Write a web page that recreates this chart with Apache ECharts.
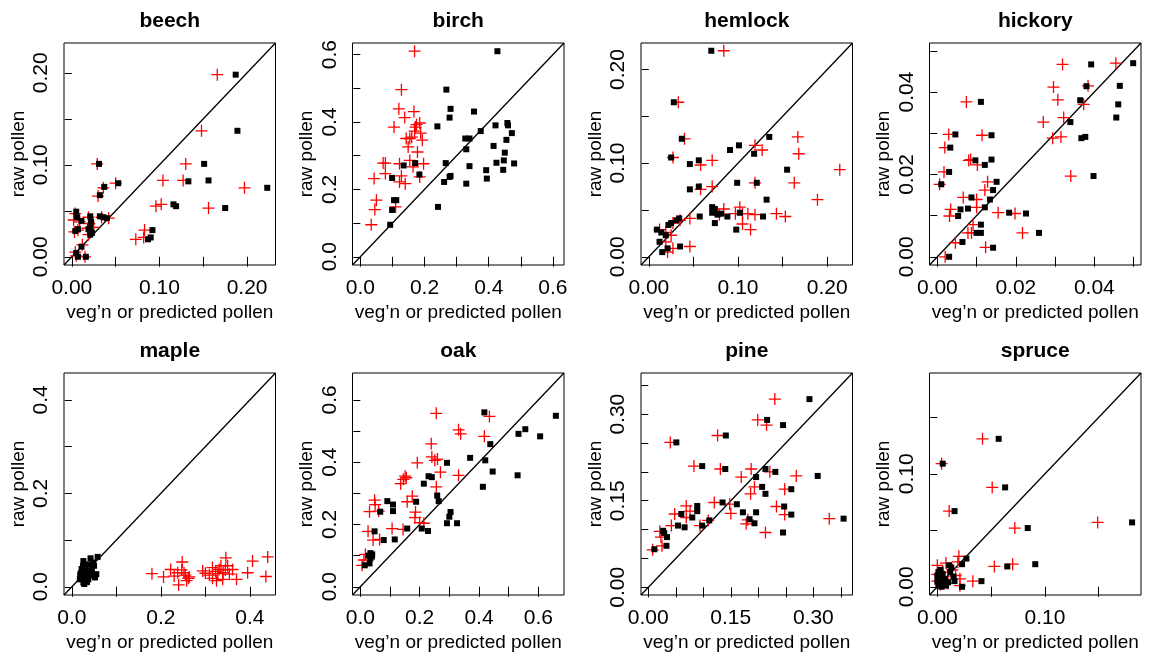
<!DOCTYPE html>
<html>
<head>
<meta charset="utf-8">
<script src="https://cdn.jsdelivr.net/npm/echarts@6/dist/echarts.min.js"></script>
<style>
  html, body { margin: 0; padding: 0; background: #ffffff; }
  #chart { width: 1150px; height: 656px; }
</style>
</head>
<body>
<div id="chart"></div>
<script>
// ---- panel names, shared x/y data limits and axis ticks ----
const taxa = ['beech', 'birch', 'hemlock', 'hickory', 'maple', 'oak', 'pine', 'spruce'];
const dataLimits = [[0, 0.2235], [0, 0.61], [0, 0.2195], [0, 0.0499], [0, 0.44], [0, 0.66], [0.001, 0.357], [0, 0.182]];
const tickMarks = [
  [0, 0.05, 0.10, 0.15, 0.20],
  [0, 0.1, 0.2, 0.3, 0.4, 0.5, 0.6],
  [0, 0.05, 0.10, 0.15, 0.20],
  [0, 0.01, 0.02, 0.03, 0.04, 0.05],
  [0, 0.1, 0.2, 0.3, 0.4],
  [0, 0.1, 0.2, 0.3, 0.4, 0.5, 0.6],
  [0, 0.05, 0.10, 0.15, 0.20, 0.25, 0.30, 0.35],
  [0, 0.05, 0.10, 0.15]
];
const tickLabels = [
  [0, 0.10, 0.20],
  [0, 0.2, 0.4, 0.6],
  [0, 0.10, 0.20],
  [0, 0.02, 0.04],
  [0, 0.2, 0.4],
  [0, 0.2, 0.4, 0.6],
  [0, 0.15, 0.30],
  [0, 0.10]
];
const labelDigits = [2, 1, 2, 2, 1, 1, 2, 2];

// ---- raw pollen (y) against vegetation (black) and predicted pollen (red) ----
const beechVeg = [[0.187,0.198],[0.189,0.137],[0.151,0.101],[0.156,0.083],[0.133,0.082],[0.223,0.075],[0.175,0.053],[0.116,0.057],[0.119,0.055],[0.092,0.029],[0.090,0.021],[0.087,0.019],[0.031,0.101],[0.037,0.076],[0.053,0.080],[0.032,0.067],[0.005,0.049],[0.006,0.043],[0.011,0.039],[0.007,0.030],[0.004,0.028],[0.021,0.044],[0.022,0.038],[0.021,0.032],[0.019,0.030],[0.032,0.044],[0.036,0.043],[0.040,0.042],[0.021,0.024],[0.023,0.026],[0.011,0.011],[0.005,0.004],[0.007,0.000],[0.016,0.000]];
const beechPred = [[0.166,0.198],[0.148,0.137],[0.130,0.101],[0.104,0.083],[0.127,0.083],[0.197,0.075],[0.156,0.053],[0.102,0.057],[0.096,0.055],[0.083,0.029],[0.082,0.021],[0.073,0.019],[0.029,0.101],[0.036,0.075],[0.050,0.080],[0.030,0.066],[0.004,0.047],[0.002,0.040],[0.009,0.038],[0.007,0.029],[0.003,0.027],[0.019,0.043],[0.020,0.036],[0.018,0.031],[0.025,0.032],[0.034,0.043],[0.042,0.042],[0.019,0.024],[0.012,0.013],[0.004,0.005],[0.005,0.001],[0.015,0.000]];

const birchVeg = [[0.427,0.610],[0.268,0.496],[0.281,0.439],[0.278,0.413],[0.354,0.431],[0.240,0.387],[0.375,0.373],[0.421,0.390],[0.458,0.397],[0.460,0.390],[0.472,0.367],[0.327,0.351],[0.340,0.351],[0.455,0.347],[0.415,0.329],[0.330,0.319],[0.450,0.309],[0.447,0.286],[0.424,0.279],[0.479,0.277],[0.340,0.269],[0.266,0.278],[0.281,0.240],[0.278,0.237],[0.392,0.257],[0.445,0.258],[0.394,0.232],[0.261,0.222],[0.330,0.217],[0.242,0.148],[0.135,0.271],[0.171,0.278],[0.184,0.244],[0.099,0.234],[0.105,0.168],[0.112,0.168],[0.099,0.139],[0.093,0.095]];
const birchPred = [[0.169,0.610],[0.128,0.496],[0.120,0.439],[0.138,0.413],[0.167,0.431],[0.105,0.385],[0.172,0.385],[0.185,0.397],[0.169,0.373],[0.188,0.367],[0.143,0.351],[0.154,0.351],[0.193,0.346],[0.149,0.326],[0.178,0.311],[0.154,0.286],[0.122,0.276],[0.071,0.278],[0.078,0.278],[0.197,0.276],[0.164,0.267],[0.078,0.247],[0.128,0.240],[0.185,0.237],[0.043,0.232],[0.122,0.222],[0.140,0.217],[0.110,0.148],[0.050,0.168],[0.045,0.140],[0.034,0.095],[0.175,0.392],[0.160,0.355]];

const hemlockVeg = [[0.070,0.220],[0.028,0.165],[0.037,0.126],[0.025,0.106],[0.046,0.099],[0.056,0.103],[0.046,0.072],[0.056,0.075],[0.091,0.114],[0.101,0.119],[0.135,0.128],[0.118,0.110],[0.099,0.079],[0.121,0.079],[0.155,0.093],[0.132,0.061],[0.071,0.053],[0.074,0.051],[0.071,0.047],[0.081,0.046],[0.088,0.043],[0.077,0.045],[0.102,0.047],[0.128,0.043],[0.074,0.036],[0.057,0.043],[0.098,0.029],[0.034,0.041],[0.031,0.039],[0.025,0.036],[0.022,0.034],[0.009,0.029],[0.014,0.026],[0.019,0.023],[0.012,0.016],[0.035,0.011],[0.015,0.005],[0.021,0.009]];
const hemlockPred = [[0.084,0.220],[0.033,0.165],[0.040,0.126],[0.027,0.106],[0.058,0.098],[0.071,0.103],[0.058,0.072],[0.071,0.075],[0.119,0.119],[0.127,0.114],[0.167,0.128],[0.168,0.110],[0.163,0.079],[0.119,0.079],[0.214,0.093],[0.189,0.061],[0.102,0.053],[0.084,0.051],[0.097,0.046],[0.105,0.046],[0.111,0.046],[0.119,0.045],[0.143,0.046],[0.153,0.043],[0.105,0.035],[0.114,0.029],[0.046,0.041],[0.027,0.036],[0.012,0.029],[0.019,0.026],[0.025,0.023],[0.019,0.016],[0.046,0.011],[0.027,0.009],[0.021,0.005],[0.079,0.045],[0.035,0.039]];

const hickoryVeg = [[0.0499,0.0470],[0.0392,0.0467],[0.0465,0.0415],[0.0380,0.0414],[0.0364,0.0380],[0.0461,0.0370],[0.0456,0.0338],[0.0339,0.0327],[0.0111,0.0376],[0.0046,0.0297],[0.0138,0.0295],[0.0377,0.0291],[0.0367,0.0288],[0.0033,0.0265],[0.0097,0.0234],[0.0121,0.0223],[0.0138,0.0236],[0.0030,0.0206],[0.0398,0.0196],[0.0010,0.0176],[0.0151,0.0182],[0.0142,0.0162],[0.0134,0.0139],[0.0087,0.0144],[0.0121,0.0120],[0.0078,0.0117],[0.0059,0.0115],[0.0053,0.0099],[0.0183,0.0107],[0.0226,0.0105],[0.0111,0.0078],[0.0100,0.0058],[0.0111,0.0058],[0.0259,0.0058],[0.0064,0.0036],[0.0142,0.0022],[0.0030,0.0000]];
const hickoryPred = [[0.0455,0.0470],[0.0319,0.0467],[0.0384,0.0415],[0.0296,0.0412],[0.0307,0.0381],[0.0373,0.0370],[0.0322,0.0338],[0.0270,0.0327],[0.0074,0.0376],[0.0029,0.0297],[0.0114,0.0295],[0.0315,0.0291],[0.0294,0.0288],[0.0019,0.0265],[0.0080,0.0234],[0.0102,0.0223],[0.0085,0.0236],[0.0017,0.0206],[0.0340,0.0196],[0.0006,0.0176],[0.0128,0.0182],[0.0121,0.0162],[0.0100,0.0139],[0.0066,0.0144],[0.0100,0.0120],[0.0034,0.0115],[0.0031,0.0099],[0.0155,0.0107],[0.0198,0.0105],[0.0091,0.0078],[0.0078,0.0058],[0.0087,0.0058],[0.0217,0.0058],[0.0046,0.0034],[0.0123,0.0023],[0.0020,0.0000]];

const mapleVeg = [[0.026,0.055],[0.042,0.061],[0.058,0.064],[0.048,0.052],[0.037,0.048],[0.031,0.043],[0.022,0.038],[0.020,0.029],[0.029,0.023],[0.035,0.034],[0.044,0.031],[0.055,0.027],[0.026,0.009],[0.018,0.016],[0.037,0.016],[0.052,0.020],[0.024,0.032],[0.028,0.026],[0.033,0.019],[0.040,0.024],[0.030,0.013],[0.022,0.020],[0.027,0.040],[0.045,0.038],[0.038,0.028],[0.028,0.006],[0.034,0.010],[0.019,0.025],[0.050,0.045],[0.025,0.045]];
const maplePred = [[0.180,0.028],[0.206,0.021],[0.222,0.037],[0.230,0.023],[0.248,0.053],[0.247,0.036],[0.240,0.004],[0.255,0.025],[0.258,0.013],[0.264,0.021],[0.252,0.030],[0.294,0.034],[0.300,0.029],[0.309,0.025],[0.316,0.018],[0.325,0.013],[0.331,0.037],[0.335,0.045],[0.346,0.062],[0.340,0.030],[0.354,0.027],[0.361,0.037],[0.370,0.016],[0.339,0.016],[0.328,0.028],[0.395,0.030],[0.406,0.055],[0.440,0.064],[0.436,0.022],[0.350,0.045],[0.316,0.041],[0.323,0.033],[0.345,0.036],[0.238,0.030],[0.262,0.018]];

const oakVeg = [[0.418,0.560],[0.659,0.549],[0.556,0.506],[0.533,0.491],[0.606,0.483],[0.438,0.458],[0.370,0.414],[0.421,0.406],[0.292,0.398],[0.446,0.370],[0.530,0.358],[0.413,0.321],[0.230,0.355],[0.241,0.352],[0.214,0.331],[0.259,0.293],[0.264,0.275],[0.188,0.273],[0.091,0.275],[0.110,0.264],[0.110,0.243],[0.067,0.241],[0.304,0.240],[0.300,0.225],[0.292,0.204],[0.326,0.204],[0.158,0.187],[0.207,0.187],[0.228,0.179],[0.048,0.178],[0.079,0.150],[0.116,0.152],[0.034,0.108],[0.039,0.097],[0.034,0.091],[0.031,0.075],[0.015,0.069],[0.040,0.104],[0.028,0.100]];
const oakPred = [[0.256,0.557],[0.435,0.547],[0.331,0.504],[0.338,0.491],[0.418,0.483],[0.239,0.459],[0.241,0.417],[0.251,0.406],[0.192,0.398],[0.270,0.368],[0.331,0.358],[0.151,0.355],[0.155,0.350],[0.136,0.331],[0.256,0.321],[0.175,0.291],[0.048,0.278],[0.158,0.273],[0.050,0.264],[0.062,0.243],[0.031,0.241],[0.186,0.240],[0.184,0.222],[0.200,0.206],[0.214,0.204],[0.144,0.184],[0.107,0.187],[0.026,0.178],[0.043,0.150],[0.065,0.152],[0.017,0.104],[0.012,0.086],[0.006,0.069],[0.145,0.345],[0.260,0.410]];

const pineVeg = [[0.293,0.326],[0.216,0.290],[0.245,0.281],[0.141,0.263],[0.051,0.251],[0.098,0.210],[0.140,0.205],[0.213,0.205],[0.231,0.200],[0.308,0.193],[0.196,0.191],[0.207,0.174],[0.260,0.170],[0.213,0.162],[0.135,0.147],[0.161,0.144],[0.089,0.141],[0.247,0.140],[0.089,0.132],[0.060,0.127],[0.172,0.130],[0.196,0.130],[0.260,0.126],[0.355,0.119],[0.080,0.121],[0.111,0.116],[0.184,0.118],[0.193,0.111],[0.054,0.107],[0.066,0.104],[0.098,0.107],[0.245,0.095],[0.027,0.098],[0.029,0.094],[0.034,0.087],[0.033,0.072],[0.011,0.066]];
const pinePred = [[0.230,0.326],[0.199,0.290],[0.215,0.281],[0.126,0.263],[0.040,0.251],[0.083,0.210],[0.131,0.205],[0.187,0.205],[0.221,0.200],[0.269,0.193],[0.169,0.191],[0.193,0.174],[0.248,0.170],[0.186,0.162],[0.120,0.147],[0.148,0.144],[0.069,0.141],[0.233,0.140],[0.076,0.132],[0.048,0.127],[0.150,0.128],[0.248,0.126],[0.329,0.119],[0.069,0.121],[0.109,0.116],[0.181,0.117],[0.178,0.110],[0.042,0.107],[0.094,0.107],[0.213,0.095],[0.021,0.097],[0.023,0.087],[0.025,0.072],[0.008,0.065]];

const spruceVeg = [[0.057,0.131],[0.005,0.109],[0.063,0.088],[0.016,0.067],[0.084,0.052],[0.181,0.057],[0.091,0.020],[0.065,0.018],[0.041,0.005],[0.027,0.025],[0.023,0.020],[0.011,0.019],[0.013,0.017],[0.012,0.013],[0.015,0.009],[0.016,0.005],[0.023,0.000],[0.001,0.013],[0.002,0.008],[0.000,0.005],[0.004,0.004],[0.007,0.007],[0.008,0.001],[0.001,0.001],[0.005,0.011],[0.000,0.010],[0.004,0.000],[0.010,0.004],[0.009,0.004],[0.003,0.015]];
const sprucePred = [[0.042,0.131],[0.004,0.109],[0.051,0.088],[0.011,0.067],[0.072,0.052],[0.149,0.057],[0.070,0.020],[0.053,0.018],[0.033,0.005],[0.020,0.027],[0.019,0.022],[0.008,0.021],[0.021,0.001],[0.000,0.019],[0.000,0.011],[0.000,0.005],[0.021,0.007],[0.005,0.013],[0.003,0.002],[0.010,0.003],[0.006,0.009],[0.014,0.015],[0.017,0.010]];

const vegSeries = [beechVeg, birchVeg, hemlockVeg, hickoryVeg, mapleVeg, oakVeg, pineVeg, spruceVeg];
const predSeries = [beechPred, birchPred, hemlockPred, hickoryPred, maplePred, oakPred, pinePred, sprucePred];

// ---- layout of the 2 x 4 panel grid ----
const colLeft = [64, 352.5, 641, 929.5];
const rowTop = [43, 373];
const boxW = 211.5;
const boxH = 222;
const FONT = '"Liberation Sans", Arial, Helvetica, sans-serif';
const PLUS = 'path://M6,0L6,12M0,6L12,6';

const grids = [], xAxes = [], yAxes = [], titles = [], series = [];

taxa.forEach(function (name, i) {
  const col = i % 4, row = Math.floor(i / 4);
  const lo = dataLimits[i][0], hi = dataLimits[i][1];
  const pad = 0.04 * (hi - lo);           // 4% range extension on both axes
  const amin = lo - pad, amax = hi + pad;
  const fmt = function (v) { return v.toFixed(labelDigits[i]); };

  grids.push({
    left: colLeft[col], top: rowTop[row], width: boxW, height: boxH,
    show: true, borderColor: '#000', borderWidth: 1, backgroundColor: 'transparent'
  });

  titles.push({
    text: name, left: colLeft[col] + boxW / 2, top: rowTop[row] - 32,
    textAlign: 'center', padding: 0,
    textStyle: { fontFamily: FONT, fontSize: 21, fontWeight: 'bold', color: '#000' }
  });

  const common = {
    gridIndex: i, type: 'value', min: amin, max: amax,
    axisLine: { show: false },
    splitLine: { show: false },
    nameLocation: 'middle',
    nameTextStyle: { fontFamily: FONT, fontSize: 19, color: '#000' }
  };

  xAxes.push(Object.assign({}, common, {
    position: 'bottom',
    name: 'veg\u2019n or predicted pollen', nameGap: 38,
    axisTick: { show: true, customValues: tickMarks[i], length: 10, lineStyle: { color: '#000', width: 1 } },
    axisLabel: { customValues: tickLabels[i], formatter: fmt, margin: 13, color: '#000', fontFamily: FONT, fontSize: 21 }
  }));

  yAxes.push(Object.assign({}, common, {
    position: 'left',
    name: 'raw pollen', nameGap: 36,
    axisTick: { show: true, customValues: tickMarks[i], length: 7, lineStyle: { color: '#000', width: 1 } },
    axisLabel: { customValues: tickLabels[i], formatter: fmt, margin: 12, rotate: 90, color: '#000', fontFamily: FONT, fontSize: 21 }
  }));

  // 1:1 reference line across the panel
  series.push({
    type: 'line', xAxisIndex: i, yAxisIndex: i,
    data: [[amin, amin], [amax, amax]],
    symbol: 'none', silent: true, z: 1, clip: true,
    lineStyle: { color: '#000', width: 1.3, cap: 'butt', opacity: 1 }
  });
  // predicted pollen: red crosses
  series.push({
    type: 'scatter', xAxisIndex: i, yAxisIndex: i,
    data: predSeries[i], symbol: PLUS, symbolSize: 12, z: 2,
    itemStyle: { color: 'rgba(0,0,0,0)', borderColor: '#ff0000', borderWidth: 1.3, opacity: 1 }
  });
  // vegetation: black squares
  series.push({
    type: 'scatter', xAxisIndex: i, yAxisIndex: i,
    data: vegSeries[i], symbol: 'rect', symbolSize: 6, z: 3,
    itemStyle: { color: '#000', opacity: 1 }
  });
});

const chart = echarts.init(document.getElementById('chart'), null, { renderer: 'canvas' });
chart.setOption({
  animation: false,
  backgroundColor: '#ffffff',
  title: titles,
  grid: grids,
  xAxis: xAxes,
  yAxis: yAxes,
  series: series
});
</script>
</body>
</html>
